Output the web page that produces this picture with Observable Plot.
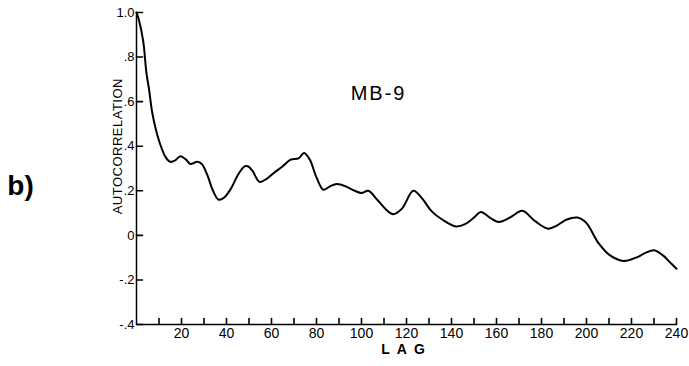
<!DOCTYPE html>
<html>
<head>
<meta charset="utf-8">
<script src="https://cdn.jsdelivr.net/npm/d3@7"></script>
<script src="https://cdn.jsdelivr.net/npm/@observablehq/plot@0.6"></script>
<style>
  html, body { margin: 0; padding: 0; background: #fff; }
  #chart svg { display: block; }
</style>
</head>
<body>
<div id="chart"></div>
<script>
const lags = [0, 1, 3, 4.4, 5.5, 7, 8.5, 10.5, 13, 15, 17, 19.5, 22, 24, 27, 29, 31.5, 34, 36.5, 39, 42, 45, 48, 49.5, 51.5, 54.7, 58, 61, 65, 68.5, 72, 74.5, 77, 80, 83, 86, 89, 93, 97, 100, 103, 107, 111, 114, 118, 123, 127, 131, 136, 142, 146, 150, 153, 157, 161, 166, 171.5, 177, 183, 187, 191, 196, 200, 205, 210.5, 216.5, 222, 226, 230, 234, 237, 240];
const acf = [1.0, 0.97, 0.87, 0.73, 0.66, 0.55, 0.48, 0.41, 0.35, 0.33, 0.335, 0.355, 0.34, 0.32, 0.33, 0.32, 0.27, 0.20, 0.16, 0.17, 0.21, 0.27, 0.31, 0.31, 0.29, 0.24, 0.255, 0.28, 0.31, 0.34, 0.345, 0.37, 0.34, 0.26, 0.205, 0.22, 0.23, 0.22, 0.20, 0.19, 0.20, 0.16, 0.115, 0.095, 0.12, 0.20, 0.165, 0.11, 0.07, 0.04, 0.05, 0.08, 0.105, 0.08, 0.06, 0.08, 0.11, 0.065, 0.03, 0.045, 0.07, 0.08, 0.055, -0.03, -0.09, -0.115, -0.10, -0.08, -0.067, -0.09, -0.12, -0.15];
const xTickLabels = [20, 40, 60, 80, 100, 120, 140, 160, 180, 200, 220, 240];
const xMinorTicks = [10, 20, 30, 40, 50, 60, 70, 80, 90, 100, 110, 120, 130, 140, 150, 160, 170, 180, 190, 200, 210, 220, 230, 240];
const yTicks = [-0.4, -0.2, 0, 0.2, 0.4, 0.6, 0.8, 1.0];
const yTickText = ["-.4", "-.2", "0", ".2", ".4", ".6", ".8", "1.0"];
const seriesName = "MB-9";
const panelLabel = "b)";
const xLabel = "LAG";
const yLabel = "AUTOCORRELATION";

const data = lags.map((l, i) => ({lag: l, r: acf[i]}));
const font = "'Liberation Sans', Arial, Helvetica, sans-serif";
const W = 689, H = 366, mL = 136, mR = 13, mT = 12, mB = 42;
const xDom = [0, 240], yDom = [-0.4, 1.0];
const tickLen = 6;
const tickShape = {
  draw(context, l) {
    context.moveTo(0, 0);
    context.lineTo(0, -l);
  }
};

const plot = Plot.plot({
  width: W,
  height: H,
  marginLeft: mL,
  marginRight: mR,
  marginTop: mT,
  marginBottom: mB,
  style: {fontFamily: font, fontSize: "14px", color: "black", background: "white"},
  x: {domain: xDom},
  y: {domain: yDom},
  marks: [
    Plot.ruleX([xDom[0]], {stroke: "black", strokeWidth: 1.5}),
    Plot.ruleY([yDom[0]], {stroke: "black", strokeWidth: 1.5}),
    Plot.vector(yTicks, {x: () => xDom[0], y: d => d, length: tickLen, rotate: 90, anchor: "start", shape: tickShape, stroke: "black", strokeWidth: 1.6}),
    Plot.vector(xMinorTicks, {x: d => d, y: () => yDom[0], length: tickLen, rotate: 0, anchor: "start", shape: tickShape, stroke: "black", strokeWidth: 1.6}),
    Plot.axisY({ticks: yTicks, tickSize: 0, tickPadding: 2, tickFormat: d => yTickText[yTicks.indexOf(d)], label: null, fontSize: 13}),
    Plot.axisX({ticks: xTickLabels, tickSize: 0, tickPadding: 4, label: null, fontSize: 14}),
    Plot.line(data, {x: "lag", y: "r", curve: "catmull-rom", stroke: "black", strokeWidth: 2}),
    Plot.text([yLabel], {text: d => d, frameAnchor: "left", y: () => 0.4, dx: -19, rotate: -90, fontSize: 13, textAnchor: "middle"}),
    Plot.text([xLabel], {text: d => d, x: () => 120, frameAnchor: "bottom", dy: 29, fontSize: 14, fontWeight: "bold", textAnchor: "middle"}),
    Plot.text([seriesName], {text: d => d, x: () => 107.6, y: () => 0.637, fontSize: 20, textAnchor: "middle"}),
    Plot.text([panelLabel], {text: d => d, frameAnchor: "left", y: () => 0.22, dx: -116, fontSize: 28, fontWeight: "bold", textAnchor: "middle"})
  ]
});
document.getElementById("chart").appendChild(plot);
d3.select(plot).selectAll("text").each(function() {
  const t = this.textContent;
  if (t === xLabel) d3.select(this).attr("letter-spacing", "7px");
  if (t === seriesName) d3.select(this).attr("letter-spacing", "2px");
  if (t === yLabel) d3.select(this).attr("letter-spacing", "0.5px");
});
</script>
</body>
</html>
